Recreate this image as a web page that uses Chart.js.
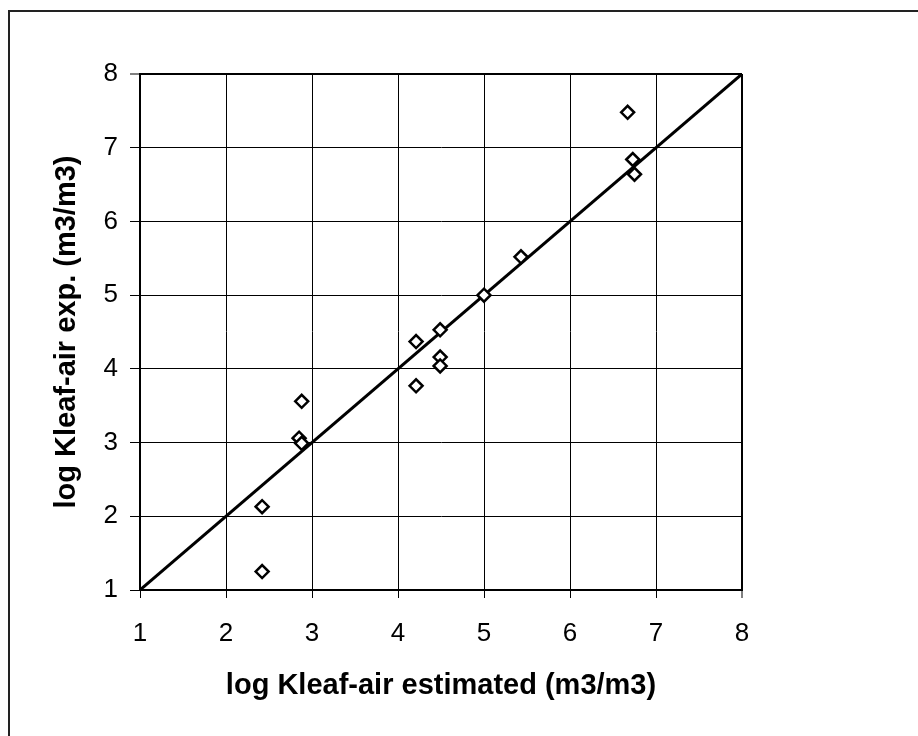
<!DOCTYPE html>
<html>
<head>
<meta charset="utf-8">
<script src="https://cdn.jsdelivr.net/npm/chart.js@4/dist/chart.umd.min.js"></script>
<style>
  html, body { margin: 0; padding: 0; background: #fff; overflow: hidden; }
  #wrap { position: relative; width: 918px; height: 736px; }
  #frame { position: absolute; left: 8px; top: 10px; width: 1000px; height: 1000px;
           border-left: 2px solid #222; border-top: 2px solid #222; box-sizing: border-box; pointer-events: none; }
  canvas { position: absolute; left: 0; top: 0; }
</style>
</head>
<body>
<div id="wrap">
  <canvas id="c" width="918" height="736"></canvas>
  <div id="frame"></div>
</div>
<script>
// Data
const estimated = [2.42, 2.42, 2.88, 2.85, 2.88, 4.21, 4.21, 4.49, 4.49, 4.49, 5.00, 5.43, 6.67, 6.73, 6.75];
const experimental = [1.25, 2.13, 3.56, 3.06, 2.99, 4.37, 3.77, 4.53, 4.16, 4.04, 5.00, 5.52, 7.48, 6.84, 6.64];
const lineX = [1, 8];
const lineY = [1, 8];
const axisMin = 1;
const axisMax = 8;
const xTitle = 'log Kleaf-air estimated (m3/m3)';
const yTitle = 'log Kleaf-air exp. (m3/m3)';

const points = estimated.map((x, i) => ({ x: x, y: experimental[i] }));
const linePts = lineX.map((x, i) => ({ x: x, y: lineY[i] }));

const FONT = "'Liberation Sans', Arial, sans-serif";

new Chart(document.getElementById('c'), {
  type: 'scatter',
  data: {
    datasets: [
      {
        data: points,
        pointStyle: 'rectRot',
        pointRadius: 6.5,
        pointBorderWidth: 2.5,
        pointBackgroundColor: '#fff',
        pointBorderColor: '#000',
        showLine: false
      },
      {
        type: 'line',
        data: linePts,
        borderColor: '#000',
        borderWidth: 3,
        pointRadius: 0,
        fill: false
      }
    ]
  },
  options: {
    responsive: false,
    animation: false,
    devicePixelRatio: 1,
    layout: { padding: { left: 0, right: 176, top: 74, bottom: 0 } },
    plugins: { legend: { display: false }, tooltip: { enabled: false } },
    scales: {
      x: {
        type: 'linear',
        min: axisMin, max: axisMax,
        ticks: { stepSize: 1, color: '#000', padding: 20, font: { family: FONT, size: 26 } },
        grid: {
          color: '#000',
          lineWidth: c => (c.tick && c.tick.value === axisMax) ? 2 : 1,
          tickLength: 8, tickColor: '#000', tickWidth: 1
        },
        border: { color: '#000', width: 2 },
        title: { display: true, text: xTitle, color: '#000', font: { family: FONT, size: 29, weight: 'bold' }, padding: { top: 0, bottom: 33 } },
        afterFit: s => { s.height = 146; }
      },
      y: {
        type: 'linear',
        min: axisMin, max: axisMax,
        ticks: { stepSize: 1, color: '#000', padding: 12, font: { family: FONT, size: 26 } },
        grid: {
          color: '#000',
          lineWidth: c => (c.tick && c.tick.value === axisMax) ? 2 : 1,
          tickLength: 10, tickColor: '#000', tickWidth: 1
        },
        border: { color: '#000', width: 2 },
        title: { display: true, text: yTitle, color: '#000', font: { family: FONT, size: 29, weight: 'bold' }, padding: { top: 50, bottom: 0 } },
        afterFit: s => { s.width = 140; }
      }
    }
  }
});
</script>
</body>
</html>
